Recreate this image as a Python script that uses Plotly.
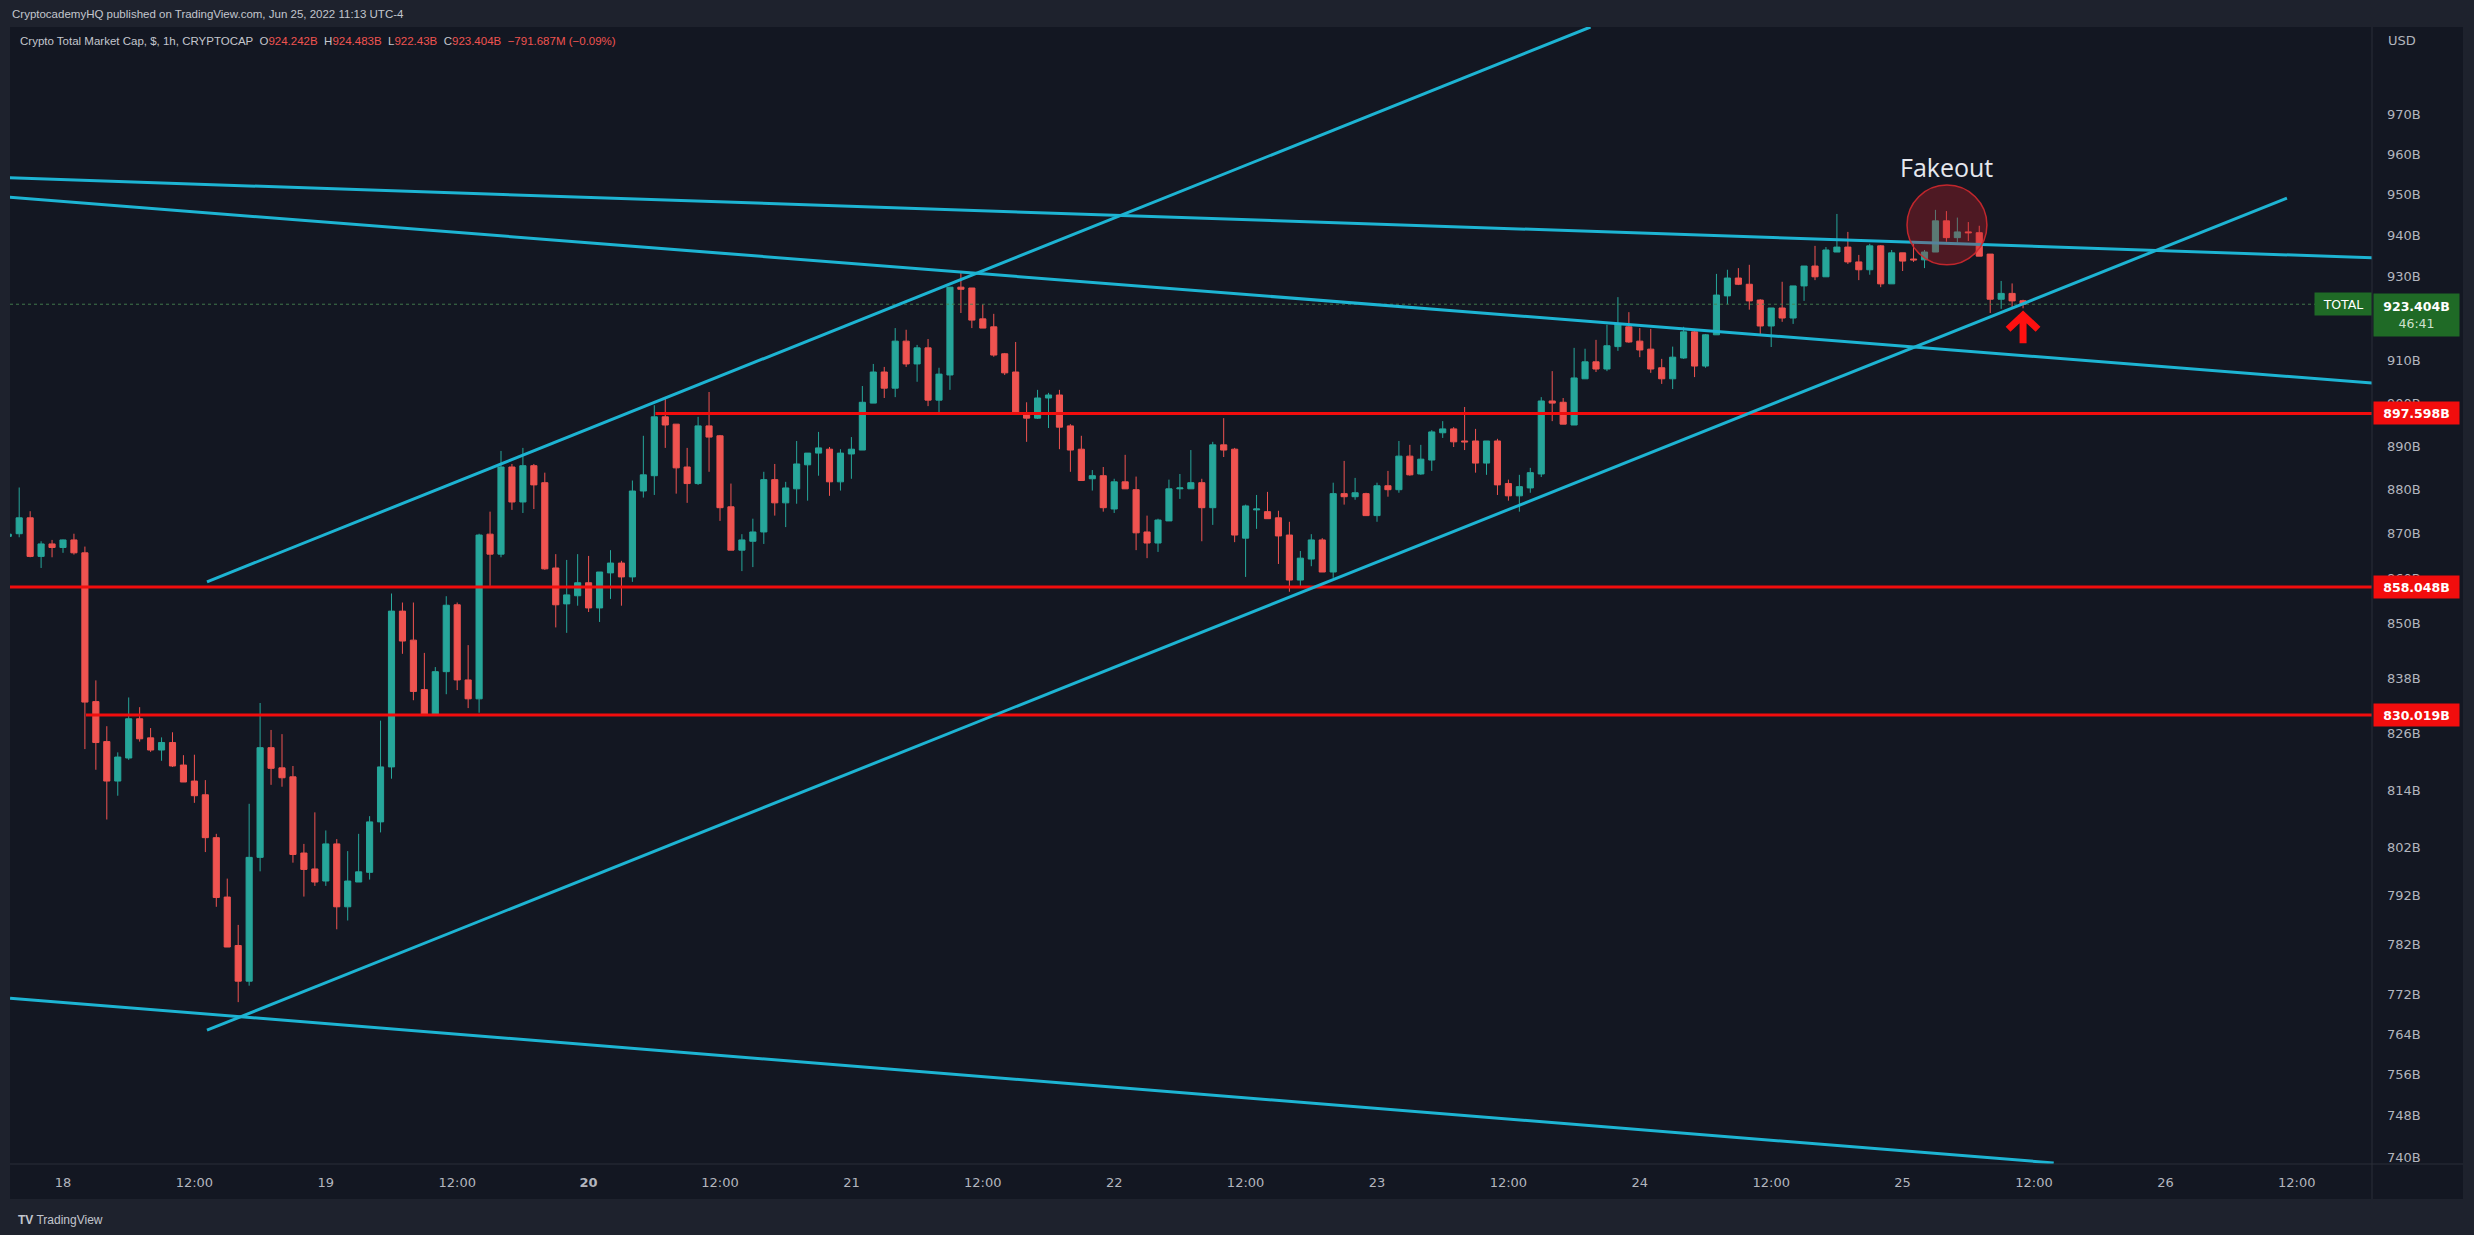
import math
import pandas as pd
import plotly.graph_objects as go

# ---------------- data ----------------
START = "2022-06-17 19:00"          # first (partially visible) hourly candle
OPEN = [869.4, 870.0, 873.6, 864.9, 867.7, 866.9, 868.6, 865.7, 832.9, 824.3,
        815.9, 820.8, 829.2, 825.1, 822.5, 824.1, 819.3, 815.9, 813.0, 804.0,
        791.7, 781.8, 774.6, 799.9, 823.0, 818.7, 816.8, 800.8, 797.5, 795.0,
        802.7, 789.7, 794.8, 796.8, 807.3, 818.9, 852.7, 846.3, 835.5, 830.1,
        839.4, 854.1, 837.6, 833.5, 869.9, 865.4, 885.2, 877.2, 885.5, 881.6,
        862.3, 854.3, 856.1, 859.0, 853.4, 861.2, 863.4, 860.3, 879.7, 883.2,
        896.8, 895.1, 885.2, 881.4, 894.7, 892.4, 876.1, 866.3, 868.3, 870.4,
        882.3, 877.0, 880.2, 885.7, 888.4, 889.3, 881.8, 888.2, 889.1, 900.0,
        907.3, 903.5, 914.6, 909.2, 913.0, 900.7, 906.6, 927.5, 927.3, 919.9,
        918.0, 911.6, 907.3, 897.7, 896.5, 901.2, 901.9, 894.7, 889.3, 882.5,
        883.2, 875.6, 881.8, 880.0, 870.4, 867.9, 872.9, 880.2, 880.2, 881.6,
        875.9, 890.3, 889.3, 869.0, 875.4, 875.0, 873.6, 869.7, 859.6, 864.3,
        868.6, 861.4, 879.1, 878.4, 879.1, 874.1, 880.9, 880.0, 887.7, 883.6,
        886.8, 893.1, 894.0, 891.2, 891.2, 886.1, 891.2, 881.4, 878.6, 880.4,
        883.6, 900.5, 900.2, 894.9, 905.7, 909.7, 908.0, 913.3, 918.0, 914.6,
        912.7, 908.3, 905.7, 910.6, 916.8, 908.7, 916.1, 925.4, 929.7, 928.2,
        924.4, 918.2, 922.5, 920.1, 927.8, 932.6, 930.0, 936.0, 937.2, 933.6,
        931.7, 937.5, 928.3, 935.8, 934.3, 934.1, 936.0, 943.6, 939.5, 940.9,
        940.7, 935.5, 924.6, 926.0, 924.242]
HIGH = [870.1, 880.5, 875.1, 868.3, 868.6, 868.7, 870.0, 867.1, 837.5, 827.6,
        822.0, 833.8, 831.7, 827.2, 825.2, 826.3, 821.4, 821.5, 816.1, 804.8,
        795.5, 786.0, 811.1, 832.6, 826.8, 825.9, 819.1, 802.7, 809.3, 805.5,
        803.7, 801.2, 804.8, 808.5, 828.8, 856.6, 854.6, 854.6, 843.5, 840.4,
        856.0, 854.6, 845.2, 870.0, 875.0, 888.9, 885.9, 889.6, 885.9, 883.9,
        865.4, 864.1, 865.4, 865.0, 861.4, 866.3, 863.9, 882.1, 892.4, 899.5,
        901.2, 895.1, 889.6, 896.8, 902.6, 892.6, 881.4, 869.9, 873.4, 884.1,
        885.9, 881.8, 891.2, 888.4, 893.3, 889.8, 889.3, 892.1, 904.0, 909.2,
        908.5, 917.7, 917.3, 913.7, 915.1, 908.3, 927.5, 930.9, 927.3, 923.4,
        921.1, 911.8, 914.4, 900.2, 903.1, 902.4, 903.1, 895.1, 892.4, 884.5,
        885.2, 882.5, 888.0, 883.0, 874.1, 873.4, 882.3, 883.6, 889.1, 882.5,
        891.0, 896.5, 889.6, 876.6, 878.8, 879.5, 875.2, 872.7, 866.1, 869.9,
        869.0, 881.6, 886.6, 882.7, 879.3, 881.6, 884.3, 891.2, 890.3, 890.3,
        893.7, 895.8, 894.4, 899.1, 894.0, 891.2, 891.7, 882.3, 883.4, 885.0,
        901.4, 907.5, 901.2, 913.0, 912.8, 914.9, 918.5, 925.1, 921.5, 917.7,
        917.5, 910.4, 913.3, 918.0, 917.5, 916.3, 930.7, 931.7, 932.1, 932.9,
        924.6, 922.5, 928.8, 927.8, 932.6, 937.5, 937.2, 945.3, 940.9, 935.3,
        938.0, 937.7, 936.5, 935.8, 938.0, 936.5, 946.3, 946.0, 944.4, 943.3,
        942.4, 935.5, 929.0, 928.4, 924.483]
LOW = [869.2, 869.2, 864.7, 862.3, 864.7, 865.7, 865.3, 822.7, 818.3, 807.8,
       812.8, 820.4, 824.3, 822.1, 820.2, 818.9, 815.7, 811.3, 801.0, 789.7,
       781.5, 770.4, 773.7, 797.0, 815.1, 814.7, 798.8, 791.8, 794.0, 794.0,
       785.1, 786.9, 794.8, 795.3, 805.1, 816.4, 843.3, 833.2, 830.1, 830.1,
       834.5, 835.4, 831.5, 830.5, 858.3, 864.7, 875.4, 874.7, 875.6, 861.9,
       849.1, 847.9, 853.9, 852.5, 850.3, 855.4, 853.9, 859.2, 878.2, 878.8,
       889.6, 879.1, 877.0, 881.1, 884.1, 872.9, 866.3, 861.6, 862.5, 867.7,
       874.1, 871.5, 876.8, 877.5, 883.2, 878.6, 879.8, 882.5, 889.1, 900.0,
       901.2, 901.4, 908.5, 905.0, 899.3, 897.9, 903.1, 921.3, 917.7, 917.7,
       910.9, 906.6, 897.7, 891.0, 896.3, 894.2, 889.3, 884.1, 882.1, 879.8,
       875.0, 874.7, 880.2, 866.3, 864.5, 865.9, 872.9, 877.9, 880.2, 868.3,
       872.0, 887.5, 868.1, 860.3, 871.1, 873.4, 863.2, 857.0, 858.3, 862.7,
       861.4, 860.1, 876.6, 877.7, 874.1, 872.7, 878.4, 879.3, 883.2, 883.4,
       884.3, 891.9, 889.8, 889.1, 883.9, 883.4, 878.8, 877.5, 875.0, 879.3,
       882.9, 895.8, 895.1, 894.9, 905.7, 907.3, 907.5, 912.3, 914.2, 910.8,
       907.1, 904.5, 903.3, 910.4, 906.1, 908.3, 916.1, 923.4, 928.0, 922.1,
       916.3, 913.2, 919.2, 918.7, 924.2, 929.2, 930.0, 936.0, 933.1, 929.2,
       930.5, 927.5, 928.3, 931.4, 933.6, 932.1, 936.0, 938.5, 938.3, 938.7,
       935.0, 921.3, 922.3, 922.7, 922.43]
CLOSE = [869.9, 873.6, 864.9, 867.7, 866.9, 868.6, 865.7, 832.8, 824.1, 815.9,
         821.0, 829.2, 824.9, 822.5, 824.1, 819.1, 815.7, 812.8, 804.0, 791.6,
         781.5, 774.6, 799.9, 823.0, 818.6, 816.6, 800.5, 797.4, 794.8, 802.7,
         789.7, 795.0, 796.9, 807.3, 818.9, 852.7, 846.1, 835.1, 830.1, 839.4,
         854.0, 837.6, 833.5, 869.7, 865.4, 885.2, 877.2, 885.5, 881.1, 862.1,
         854.1, 856.3, 859.0, 853.4, 861.4, 863.4, 860.3, 879.7, 883.4, 896.8,
         894.9, 885.0, 881.4, 894.7, 892.1, 875.9, 866.3, 868.6, 870.4, 882.3,
         877.0, 880.4, 885.9, 888.4, 889.6, 881.8, 888.4, 889.3, 900.2, 907.3,
         903.5, 914.6, 909.2, 913.0, 900.7, 906.8, 927.5, 927.0, 919.6, 917.7,
         911.3, 907.1, 897.7, 896.5, 901.2, 901.9, 894.4, 889.1, 882.1, 883.2,
         875.9, 881.8, 880.2, 870.2, 867.9, 873.1, 880.2, 880.4, 881.6, 875.9,
         890.3, 889.1, 869.7, 876.3, 875.6, 873.4, 869.5, 859.6, 864.5, 868.6,
         861.4, 879.1, 878.4, 879.3, 874.1, 880.9, 880.0, 887.7, 883.4, 887.0,
         893.3, 894.0, 891.0, 891.0, 886.1, 891.2, 881.1, 878.6, 880.7, 883.9,
         900.5, 900.0, 895.1, 905.9, 909.7, 908.0, 913.5, 918.7, 914.4, 912.5,
         908.0, 905.7, 910.8, 916.8, 908.7, 916.1, 925.6, 929.7, 928.2, 924.2,
         918.2, 922.5, 920.1, 927.8, 932.6, 930.0, 936.5, 937.2, 933.6, 931.7,
         937.5, 928.3, 935.8, 933.8, 934.1, 936.0, 943.6, 939.5, 940.9, 940.7,
         935.0, 924.6, 926.0, 924.2, 923.404]

# horizontal support / resistance levels (billions USD) and where they start
LEVELS = [897.598, 858.048, 830.019]
LEVEL_START = ["2022-06-20 06:06", "2022-06-17 19:09", "2022-06-18 02:06"]

# trend lines: (start time, start price) -> (end time, end price)
TREND_T0 = ["2022-06-18 13:09", "2022-06-18 13:09", "2022-06-17 19:07",
            "2022-06-17 19:07", "2022-06-17 19:10"]
TREND_P0 = [859.2, 764.8, 954.2, 949.4, 771.2]
TREND_T1 = ["2022-06-23 19:30", "2022-06-26 11:06", "2022-06-26 18:54",
            "2022-06-26 18:54", "2022-06-25 13:48"]
TREND_P1 = [992.3, 949.2, 934.6, 904.7, 738.9]

Y_TICKS = [970, 960, 950, 940, 930, 910, 900, 890, 880, 870, 860, 850,
           838, 826, 814, 802, 792, 782, 772, 764, 756, 748, 740]
Y_RANGE = [738.7, 992.3]
X_RANGE = ["2022-06-17 19:09:36", "2022-06-26 18:52"]

FAKEOUT_BOX_T = ["2022-06-25 00:24", "2022-06-25 07:42"]
FAKEOUT_BOX_P = [932.9, 952.4]
FAKEOUT_TEXT_T, FAKEOUT_TEXT_P = "2022-06-25 04:03", 957.0

HEADER = "CryptocademyHQ published on TradingView.com, Jun 25, 2022 11:13 UTC-4"
SYMBOL = "Crypto Total Market Cap, $, 1h, CRYPTOCAP"
CHANGE = "\u2212791.687M (\u22120.09%)"
COUNTDOWN = "46:41"

# ---------------- styling ----------------
W, H = 2474, 1235
PL, PR, PT, PB = 10, 2372, 27, 1164       # plot-area pixel box
PANE_R, PANE_B = 2463, 1199
OUTER = "#1e222d"
PANE = "#131722"
SEP = "#2a2e39"
UP, DOWN = "#26a69a", "#ef5350"
CYAN = "#1db4d3"
RED = "#f20d0d"
TXT = "#b2b5be"
AX_FONT = "DejaVu Sans"
HD_FONT = "Liberation Sans"


def px(x):
    return (x - PL) / (PR - PL)


def py(y):
    return (PB - y) / (PB - PT)


times = pd.date_range(START, periods=len(OPEN), freq="h")
lg = math.log10

fig = go.Figure()

fig.add_trace(go.Candlestick(
    x=times, open=OPEN, high=HIGH, low=LOW, close=CLOSE,
    increasing=dict(line=dict(color=UP, width=1), fillcolor=UP),
    decreasing=dict(line=dict(color=DOWN, width=1), fillcolor=DOWN),
    whiskerwidth=0, hoverinfo="skip", showlegend=False,
))

# last price dotted line
fig.add_trace(go.Scatter(
    x=[X_RANGE[0], X_RANGE[1]], y=[CLOSE[-1], CLOSE[-1]], mode="lines",
    line=dict(color="rgba(70,130,80,0.9)", width=1, dash="dot"),
    hoverinfo="skip", showlegend=False))

# horizontal levels
for lvl, t0 in zip(LEVELS, LEVEL_START):
    fig.add_trace(go.Scatter(
        x=[t0, X_RANGE[1]], y=[lvl, lvl], mode="lines",
        line=dict(color=RED, width=3), hoverinfo="skip", showlegend=False))

# trend lines
for t0, p0, t1, p1 in zip(TREND_T0, TREND_P0, TREND_T1, TREND_P1):
    fig.add_trace(go.Scatter(
        x=[t0, t1], y=[p0, p1], mode="lines",
        line=dict(color=CYAN, width=3), hoverinfo="skip", showlegend=False))

shapes = [
    # pane background incl. axis areas
    dict(type="rect", xref="paper", yref="paper", x0=px(PL), x1=px(PANE_R),
         y0=py(PANE_B), y1=py(PT), fillcolor=PANE, line=dict(width=0), layer="below"),
    # separators
    dict(type="line", xref="paper", yref="paper", x0=1, x1=1, y0=py(PANE_B), y1=1,
         line=dict(color=SEP, width=1)),
    dict(type="line", xref="paper", yref="paper", x0=0, x1=px(PANE_R), y0=0, y1=0,
         line=dict(color=SEP, width=1)),
    # fakeout circle
    dict(type="circle", xref="x", yref="y",
         x0=FAKEOUT_BOX_T[0], x1=FAKEOUT_BOX_T[1],
         y0=FAKEOUT_BOX_P[0], y1=FAKEOUT_BOX_P[1],
         fillcolor="rgba(200,30,40,0.33)", line=dict(color="rgba(210,40,45,0.9)", width=1.5),
         layer="above"),
    # red up arrow under the last candle
    dict(type="path", xref="x", yref="y", xsizemode="pixel", ysizemode="pixel",
         xanchor=times[-1], yanchor=LOW[-1],
         path="M 0,-35 L 0,-6 M -15,-21 L 0,-7 L 15,-21",
         line=dict(color="#ff1010", width=7), layer="above"),
]

anns = [
    dict(xref="paper", yref="paper", x=px(10), y=py(14), xanchor="left", yanchor="middle",
         text=HEADER, showarrow=False, font=dict(family=HD_FONT, size=11.5, color="#c3c6ce")),
    dict(xref="paper", yref="paper", x=px(18), y=py(41), xanchor="left", yanchor="middle",
         showarrow=False, font=dict(family=HD_FONT, size=11.5, color="#c3c6ce"),
         text=(f"{SYMBOL}  O<span style='color:{DOWN}'>{OPEN[-1]:g}B</span>"
               f"  H<span style='color:{DOWN}'>{HIGH[-1]:g}B</span>"
               f"  L<span style='color:{DOWN}'>{LOW[-1]:g}B</span>"
               f"  C<span style='color:{DOWN}'>{CLOSE[-1]:g}B</span>"
               f"  <span style='color:{DOWN}'>{CHANGE}</span>")),
    dict(xref="paper", yref="paper", x=px(2386), y=py(41), xanchor="left", yanchor="middle",
         text="USD", showarrow=False, font=dict(family=AX_FONT, size=13, color=TXT)),
    dict(xref="x", yref="y", x=FAKEOUT_TEXT_T, y=lg(FAKEOUT_TEXT_P), text="Fakeout",
         showarrow=False, font=dict(family="Open Sans", size=25, color="#e6e8ee")),
    dict(xref="paper", yref="paper", x=px(16), y=py(1220), xanchor="left", yanchor="middle",
         text="<b>TV</b> TradingView", showarrow=False,
         font=dict(family=HD_FONT, size=12, color="#c3c6ce")),
]

for lvl in LEVELS:
    anns.append(dict(xref="paper", yref="y", x=1, y=lg(lvl), xanchor="left", yanchor="middle",
                     xshift=1, text=f"<b>{lvl:.3f}B</b>", showarrow=False, bgcolor=RED,
                     width=83, height=20, align="center",
                     font=dict(family=AX_FONT, size=12.5, color="white")))

anns.append(dict(xref="paper", yref="y", x=1, y=lg(CLOSE[-1]), xanchor="left", yanchor="top",
                 xshift=1, yshift=11, showarrow=False, bgcolor="#1f6a26",
                 width=83, height=40, align="center",
                 text=f"<b>{CLOSE[-1]:.3f}B</b><br><span style='color:#cfe0cf'>{COUNTDOWN}</span>",
                 font=dict(family=AX_FONT, size=12.5, color="white")))
anns.append(dict(xref="paper", yref="y", x=1, y=lg(CLOSE[-1]), xanchor="right", yanchor="middle",
                 showarrow=False, bgcolor="#1f6a26", width=54, height=20, align="center",
                 text="TOTAL", font=dict(family=AX_FONT, size=12.5, color="white")))

# x ticks every 12h
xt = pd.date_range("2022-06-18", "2022-06-26 12:00", freq="12h")
xtext = []
for t in xt:
    if t.hour == 12:
        xtext.append("12:00")
    elif t.day == 20:
        xtext.append("<b>20</b>")
    else:
        xtext.append(str(t.day))

fig.update_layout(
    width=W, height=H, autosize=False,
    margin=dict(l=PL, r=W - PR, t=PT, b=H - PB, pad=0),
    paper_bgcolor=OUTER, plot_bgcolor=PANE,
    showlegend=False, boxgap=0.2, boxgroupgap=0.3,
    shapes=shapes, annotations=anns,
    xaxis=dict(type="date", range=X_RANGE, rangeslider=dict(visible=False),
               showgrid=False, zeroline=False, showline=False,
               tickvals=list(xt), ticktext=xtext, ticks="",
               ticklabelstandoff=9,
               tickfont=dict(family=AX_FONT, size=13, color=TXT)),
    yaxis=dict(type="log", side="right", range=[lg(Y_RANGE[0]), lg(Y_RANGE[1])],
               showgrid=False, zeroline=False, showline=False,
               tickvals=Y_TICKS, ticktext=[f"{v}B" for v in Y_TICKS], ticks="",
               ticklabelstandoff=14,
               tickfont=dict(family=AX_FONT, size=13, color=TXT)),
)

fig.write_html(
    "out.html",
    config=dict(displayModeBar=False),
    post_script="document.body.style.margin='0';document.body.style.background='#1e222d';",
)
